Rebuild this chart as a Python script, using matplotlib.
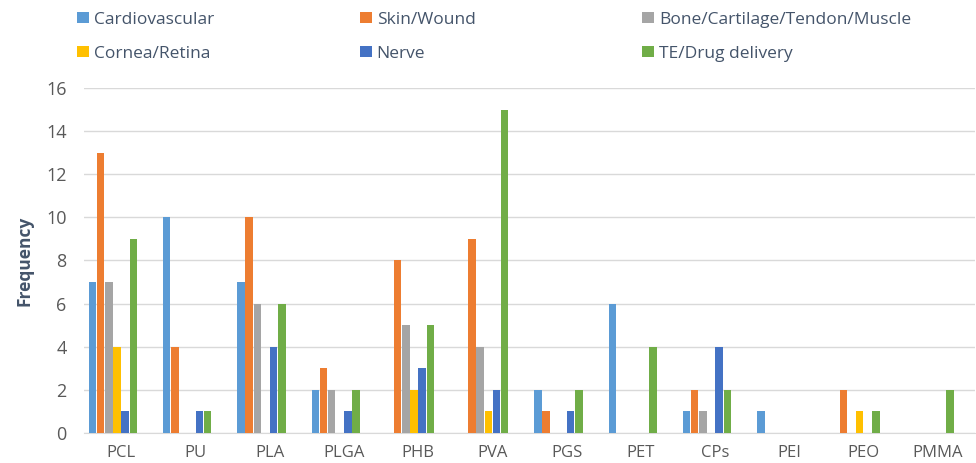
import numpy as np
from matplotlib import pyplot as plt

plt.rcParams['font.family'] = ['Open Sans', 'DejaVu Sans']

categories = ['PCL', 'PU', 'PLA', 'PLGA', 'PHB', 'PVA', 'PGS', 'PET', 'CPs', 'PEI', 'PEO', 'PMMA']

cardiovascular = [7, 10, 7, 2, 0, 0, 2, 6, 1, 1, 0, 0]
skin_wound = [13, 4, 10, 3, 8, 9, 1, 0, 2, 0, 2, 0]
bone_muscle = [7, 0, 6, 2, 5, 4, 0, 0, 1, 0, 0, 0]
cornea_retina = [4, 0, 0, 0, 2, 1, 0, 0, 0, 0, 1, 0]
nerve = [1, 1, 4, 1, 3, 2, 1, 0, 4, 0, 0, 0]
te_drug = [9, 1, 6, 2, 5, 15, 2, 4, 2, 0, 1, 2]

series_names = ['Cardiovascular', 'Skin/Wound', 'Bone/Cartilage/Tendon/Muscle',
                'Cornea/Retina', 'Nerve', 'TE/Drug delivery']
series_values = [cardiovascular, skin_wound, bone_muscle, cornea_retina, nerve, te_drug]
colors = ['#5B9BD5', '#ED7D31', '#A5A5A5', '#FFC000', '#4472C4', '#70AD47']

fig = plt.figure(figsize=(9.76, 4.63), dpi=100)
ax = fig.add_axes([0.086, 0.065, 0.913, 0.745])

x = np.arange(len(categories))
pitch = 0.11
width = 0.10
handles = []
for i, (name, vals, c) in enumerate(zip(series_names, series_values, colors)):
    h = ax.bar(x + (i - 3.5) * pitch, vals, width, color=c, label=name, zorder=3)
    handles.append(h)

ax.set_xlim(-0.5, len(categories) - 0.5)
ax.set_ylim(0, 16)
ax.set_yticks(range(0, 17, 2))
ax.set_xticks(x)
ax.set_xticklabels(categories)
ax.grid(axis='y', color='#D9D9D9', linewidth=1, zorder=0)
for s in ['top', 'right', 'left']:
    ax.spines[s].set_visible(False)
ax.spines['bottom'].set_color('#D9D9D9')
ax.tick_params(axis='both', length=0, labelsize=12, colors='#595959')
ax.tick_params(axis='y', pad=12.5, labelsize=13)
ax.tick_params(axis='x', pad=9)
ax.set_ylabel('Frequency', fontsize=12.5, fontweight='bold', color='#44546A', labelpad=9)

# legend, three columns of two rows
col_x = [0.072, 0.362, 0.651]
for j in range(3):
    fig.legend([handles[j], handles[j + 3]], [series_names[j], series_names[j + 3]],
               loc='upper left', bbox_to_anchor=(col_x[j], 0.989), frameon=False,
               fontsize=12.5, handlelength=0.65, handleheight=0.6, handletextpad=0.3,
               labelspacing=1.02, labelcolor='#44546A', borderaxespad=0)

fig.savefig('out.png', dpi=100)
